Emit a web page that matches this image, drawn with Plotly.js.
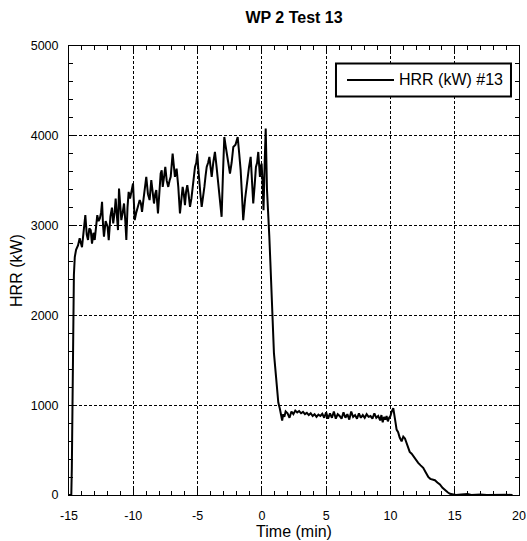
<!DOCTYPE html>
<html>
<head>
<meta charset="utf-8">
<script src="https://cdn.plot.ly/plotly-3.0.1.min.js"></script>
<style>html,body{margin:0;padding:0;background:#fff;}#chart{width:527px;height:541px;}</style>
</head>
<body>
<div id="chart"></div>
<script>
// Time (min)
const timeMin = [
 -15.0, -14.82, -14.78, -14.74, -14.70, -14.66, -14.62, -14.55, -14.45, -14.3,
 -14.17, -13.99, -13.85, -13.73, -13.62, -13.52, -13.42, -13.31, -13.21, -13.1,
 -13.0, -12.9, -12.8, -12.7, -12.6, -12.5, -12.43, -12.35, -12.28, -12.15,
 -12.0, -11.91, -11.78, -11.66, -11.56, -11.45, -11.37, -11.27, -11.19, -11.11,
 -11.0, -10.93, -10.82, -10.72, -10.62, -10.54, -10.45, -10.36, -10.25, -10.15,
 -10.02, -9.95, -9.89, -9.76, -9.63, -9.5, -9.41, -9.32, -9.2, -9.1,
 -8.99, -8.86, -8.73, -8.6, -8.5, -8.39, -8.3, -8.21, -8.08, -7.97,
 -7.87, -7.79, -7.71, -7.6, -7.51, -7.4, -7.28, -7.18, -7.09, -6.94,
 -6.85, -6.76, -6.63, -6.5, -6.37, -6.26, -6.16, -6.07, -5.98, -5.89,
 -5.8, -5.7, -5.59, -5.48, -5.38, -5.29, -5.2, -5.1, -5.02, -4.95,
 -4.87, -4.78, -4.68, -4.57, -4.47, -4.38, -4.29, -4.18, -4.08, -3.99,
 -3.9, -3.78, -3.65, -3.52, -3.39, -3.26, -3.13, -3.02, -2.92, -2.83,
 -2.74, -2.61, -2.48, -2.35, -2.22, -2.05, -1.88, -1.76, -1.65, -1.55,
 -1.45, -1.3, -1.14, -1.0, -0.87, -0.77, -0.67, -0.56, -0.46, -0.37,
 -0.28, -0.2, -0.15, -0.08, -0.02, 0.05, 0.13, 0.22, 0.3, 0.4,
 0.5, 0.58, 0.66, 0.76, 0.85, 0.94, 1.1, 1.28, 1.4, 1.5,
 1.58, 1.66, 1.75, 1.85, 2.0, 2.15, 2.3, 2.45, 2.6, 2.75,
 2.9, 3.05, 3.2, 3.35, 3.5, 3.65, 3.8, 3.95, 4.1, 4.25,
 4.4, 4.55, 4.7, 4.85, 5.0, 5.15, 5.3, 5.45, 5.6, 5.75,
 5.9, 6.05, 6.2, 6.35, 6.5, 6.65, 6.8, 6.95, 7.1, 7.25,
 7.4, 7.55, 7.7, 7.85, 8.0, 8.15, 8.3, 8.45, 8.6, 8.75,
 8.9, 9.05, 9.2, 9.3, 9.4, 9.5, 9.6, 9.7, 9.8, 9.9,
 10.0, 10.1, 10.22, 10.35, 10.48, 10.6, 10.72, 10.87, 11.0, 11.13,
 11.25, 11.39, 11.5, 11.65, 11.78, 11.95, 12.16, 12.35, 12.55, 12.75,
 12.94, 13.1, 13.3, 13.46, 13.65, 13.85, 14.05, 14.24, 14.45, 14.63,
 14.85, 15.1, 15.5, 16.0, 16.3, 17.0, 17.5, 18.0, 18.5, 19.0, 19.5
];
// HRR (kW) #13
const hrrKW = [
 0, 0, 300, 900, 1600, 2100, 2450, 2650, 2730, 2780,
 2860, 2760, 2950, 3117, 2900, 2840, 2970, 2950, 2800, 2920,
 2840, 3000, 3117, 3050, 3080, 3150, 3265, 3000, 2876, 3050,
 2987, 2839, 3100, 3200, 3024, 3150, 3302, 3100, 2950, 3413,
 3200, 3061, 3150, 3246, 3050, 2839, 3200, 3376, 3300, 3395,
 3469, 3250, 3061, 3150, 3209, 3284, 3250, 3154, 3300, 3400,
 3543, 3350, 3284, 3506, 3400, 3246, 3350, 3395, 3135, 3450,
 3580, 3617, 3431, 3550, 3654, 3500, 3431, 3500, 3543, 3802,
 3650, 3543, 3635, 3431, 3135, 3300, 3431, 3350, 3228, 3380,
 3450, 3350, 3209, 3300, 3431, 3550, 3654, 3700, 3802, 3650,
 3469, 3350, 3209, 3300, 3431, 3550, 3654, 3700, 3765, 3650,
 3543, 3700, 3820, 3650, 3469, 3300, 3098, 3600, 3987, 3900,
 3802, 3700, 3580, 3700, 3876, 3900, 3987, 3800, 3617, 3350,
 3061, 3300, 3506, 3650, 3765, 3500, 3246, 3450, 3654, 3700,
 3820, 3650, 3543, 3650, 3690, 3500, 3170, 3700, 4080, 3400,
 2990, 2880, 2600, 2140, 1850, 1580, 1320, 1030, 960, 880,
 830, 900, 870, 930, 910, 860, 930, 900, 940, 920,
 935, 910, 925, 900, 915, 890, 910, 880, 900, 870,
 895, 880, 905, 860, 920, 850, 910, 860, 930, 850,
 900, 880, 850, 920, 860, 900, 840, 930, 870, 890,
 850, 910, 860, 890, 860, 900, 870, 880, 850, 910,
 860, 880, 830, 890, 810, 870, 840, 880, 820, 860,
 880, 930, 968, 850, 728, 700, 640, 598, 650, 630,
 580, 506, 480, 460, 432, 400, 358, 330, 302, 250,
 202, 180, 170, 165, 140, 117, 80, 54, 30, 13,
 3, 0, 5, 10, 0, 5, 0, 3, 0, 2, 0
];
const seriesName = "HRR (kW) #13";
const xTickVals = [-15, -10, -5, 0, 5, 10, 15, 20];
const xTickText = ["-15", "-10", "-5", "0", "5", "10", "15", "20"];
const yTickVals = [0, 1000, 2000, 3000, 4000, 5000];
const yTickText = ["0", "1000", "2000", "3000", "4000", "5000"];

const FONT = "Liberation Sans, Arial, Helvetica, sans-serif";

const axisCommon = {
  showline: true, linecolor: "#000", linewidth: 1, mirror: "ticks",
  ticks: "inside", ticklen: 6, tickcolor: "#000", tickwidth: 1,
  showgrid: true, gridcolor: "#000", gridwidth: 1, griddash: "3px,2px",
  zeroline: false, tickfont: {family: FONT, size: 12.5, color: "#000"},
  tickmode: "array"
};

const trace = {
  x: timeMin, y: hrrKW, type: "scatter", mode: "lines",
  name: seriesName,
  line: {color: "#000", width: 2}
};

// legend drawn as a framed key in paper coordinates
const legBox = {x0: 0.5933, x1: 0.9822, y0: 0.8878, y1: 0.9611};
const legLine = {x0: 0.6178, x1: 0.7222, y: 0.9244};

const layout = {
  width: 527, height: 541,
  margin: {l: 69, r: 8, t: 45.5, b: 45.5},
  paper_bgcolor: "#fff", plot_bgcolor: "#fff",
  font: {family: FONT, color: "#000"},
  title: {text: "<b>WP 2 Test 13</b>", font: {family: FONT, size: 16, color: "#000"},
          xref: "paper", x: 0.5, xanchor: "center", yref: "container", y: 0.968, yanchor: "middle"},
  xaxis: Object.assign({}, axisCommon, {
    range: [-15, 20], tickvals: xTickVals, ticktext: xTickText, ticklabelstandoff: 9,
    minor: {tickmode: "linear", tick0: -15, dtick: 1, ticks: "inside", ticklen: 4, tickcolor: "#000", showgrid: false},
    title: {text: "Time (min)", font: {family: FONT, size: 16, color: "#000"}, standoff: 2}
  }),
  yaxis: Object.assign({}, axisCommon, {
    range: [0, 5000], tickvals: yTickVals, ticktext: yTickText, ticklabelstandoff: 7,
    minor: {tickmode: "linear", tick0: 0, dtick: 200, ticks: "inside", ticklen: 4, tickcolor: "#000", showgrid: false},
    title: {text: "HRR (kW)", font: {family: FONT, size: 16, color: "#000"}, standoff: 4}
  }),
  showlegend: false,
  shapes: [
    {type: "rect", xref: "paper", yref: "paper", x0: legBox.x0, x1: legBox.x1, y0: legBox.y0, y1: legBox.y1,
     line: {color: "#000", width: 2}, fillcolor: "#fff", layer: "above"},
    {type: "line", xref: "paper", yref: "paper", x0: legLine.x0, x1: legLine.x1, y0: legLine.y, y1: legLine.y,
     line: {color: "#000", width: 2}, layer: "above"}
  ],
  annotations: [
    {xref: "paper", yref: "paper", x: 0.7289, y: legLine.y, xanchor: "left", yanchor: "middle",
     text: seriesName, showarrow: false, font: {family: FONT, size: 16, color: "#000"}}
  ]
};

Plotly.newPlot("chart", [trace], layout, {displayModeBar: false, staticPlot: true});
</script>
</body>
</html>
